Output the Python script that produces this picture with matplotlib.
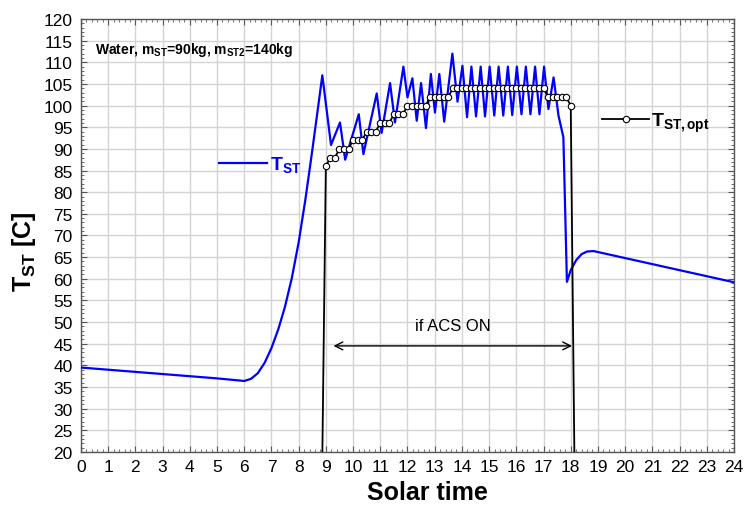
import matplotlib
matplotlib.use("Agg")
import matplotlib.pyplot as plt
from matplotlib.ticker import MultipleLocator
from matplotlib.lines import Line2D

plt.rcParams['font.family'] = ['Liberation Sans', 'DejaVu Sans']
plt.rcParams['mathtext.fontset'] = 'custom'
plt.rcParams['mathtext.rm'] = 'Liberation Sans'
plt.rcParams['mathtext.it'] = 'Liberation Sans:italic'
plt.rcParams['mathtext.bf'] = 'Liberation Sans:bold'

# ---- data ----
t_st = [0, 1, 2, 3, 4, 5, 6.0, 6.25, 6.5, 6.75, 7.0, 7.25, 7.5, 7.75, 8.0, 8.25, 8.5, 8.75, 8.87,
        9.19, 9.52, 9.71, 10.21, 10.38, 10.87, 11.05, 11.36, 11.54, 11.85, 12.0, 12.18,
        12.34, 12.5, 12.68, 12.86, 13.01, 13.17, 13.35, 13.65, 13.84, 14.02, 14.19, 14.35,
        14.52, 14.69, 14.85, 15.02, 15.19, 15.35, 15.52, 15.69, 15.85, 16.02, 16.19, 16.35,
        16.52, 16.69, 16.85, 17.02, 17.18, 17.37, 17.55, 17.73, 17.86, 18.0, 18.2, 18.4,
        18.6, 18.84, 24.0]
T_st = [39.5, 39.0, 38.5, 38.0, 37.5, 37.0, 36.4, 36.9, 38.2, 40.6, 44.0, 48.3, 53.6, 60.2,
        68.4, 78.4, 89.6, 101.3, 107.0,
        90.9, 96.1, 87.5, 98.0, 88.8, 102.8, 93.7, 105.2, 96.1, 109.0, 101.9, 106.3,
        96.5, 105.2, 94.8, 107.3, 98.4, 107.3, 96.3, 112.0, 100.9, 109.2, 97.3, 109.0,
        97.5, 109.0, 97.5, 109.0, 97.7, 109.0, 97.7, 109.0, 97.8, 109.0, 98.0, 109.0,
        98.0, 109.0, 98.0, 109.0, 99.2, 106.5, 97.7, 92.7, 59.3, 62.0, 64.3, 65.7,
        66.3, 66.4, 59.2]

t_opt_min = [530, 540, 550, 560, 570, 580, 590, 600, 610, 620, 630, 640, 650, 660, 670,
             680, 690, 700, 710, 720, 730, 740, 750, 760, 770, 780, 790, 800, 810, 820,
             830, 840, 850, 860, 870, 880, 890, 900, 910, 920, 930, 940, 950, 960, 970,
             980, 990, 1000, 1010, 1020, 1030, 1040, 1050, 1060, 1070, 1080, 1090]
T_opt = [0, 86, 88, 88, 90, 90, 90, 92, 92, 92, 94, 94, 94, 96, 96,
         96, 98, 98, 98, 100, 100, 100, 100, 100, 102, 102, 102, 102, 102, 104,
         104, 104, 104, 104, 104, 104, 104, 104, 104, 104, 104, 104, 104, 104, 104,
         104, 104, 104, 104, 104, 102, 102, 102, 102, 102, 100, 0]
t_opt = [m / 60.0 for m in t_opt_min]

x_ticks = list(range(0, 25))
y_ticks = list(range(20, 121, 5))

acs_on = (9.28, 18.05)

# ---- figure ----
fig = plt.figure(figsize=(7.45, 5.10), dpi=100)
ax = fig.add_axes([0.1087, 0.1118, 0.8765, 0.849])

ax.plot(t_st, T_st, color='#0000ff', lw=1.6, zorder=3)
ax.plot(t_opt, T_opt, color='black', lw=1.3, marker='o', ms=4.6,
        mfc='white', mec='black', mew=0.8, zorder=4)

ax.set_xlim(0, 24)
ax.set_ylim(20, 120)
ax.set_xticks(x_ticks)
ax.set_yticks(y_ticks)
ax.xaxis.set_minor_locator(MultipleLocator(0.2))
ax.yaxis.set_minor_locator(MultipleLocator(1))
ax.tick_params(which='both', direction='in', top=True, right=True, color='#555555')
ax.tick_params(which='major', length=4, labelsize=12.5)
ax.tick_params(which='minor', length=2.5)
ax.tick_params(axis='x', pad=5)
ax.tick_params(axis='y', pad=6)
ax.grid(True, which='major', color='#d4d4d4', lw=1.0, zorder=0)
ax.set_axisbelow(True)
for s in ax.spines.values():
    s.set_color('#555555')
    s.set_linewidth(1.0)

ax.set_xlabel('Solar time', fontsize=18, fontweight='bold')
ax.xaxis.set_label_coords(0.531, -0.064)
ax.set_ylabel(r'$\mathbf{T_{ST}}$ [C]', fontsize=18, fontweight='bold')
ax.yaxis.set_label_coords(-0.066, 0.465)

ax.text(0.022, 0.93, r'Water, m$_{\mathbf{ST}}$=90kg, m$_{\mathbf{ST2}}$=140kg',
        transform=ax.transAxes, fontsize=10, fontweight='bold', va='center', ha='left')

# arrow "if ACS ON"
ax.annotate('', xy=(acs_on[0], 44.5), xytext=(acs_on[1], 44.5),
            arrowprops=dict(arrowstyle='<->', color='black', lw=1.0,
                            shrinkA=0, shrinkB=0, mutation_scale=14))
ax.text((acs_on[0] + acs_on[1]) / 2, 49.3, 'if ACS ON', ha='center', va='center',
        fontsize=12)

# legends
h1 = Line2D([], [], color='#0000ff', lw=1.6)
leg1 = ax.legend([h1], [r'$\mathbf{T_{ST}}$'], loc='center left',
                 bbox_to_anchor=(0.2106, 0.664), frameon=False, fontsize=14,
                 handlelength=2.5, handletextpad=0.15, borderpad=0, borderaxespad=0)
for txt in leg1.get_texts():
    txt.set_color('#0000ff')
ax.add_artist(leg1)

h2 = Line2D([], [], color='black', lw=1.3, marker='o', ms=4.6, mfc='white',
            mec='black', mew=0.8)
ax.legend([h2], [r'$\mathbf{T_{ST,opt}}$'], loc='center left',
          bbox_to_anchor=(0.7986, 0.762), frameon=False, fontsize=14,
          handlelength=2.4, handletextpad=0.1, borderpad=0, borderaxespad=0,
          numpoints=1)

fig.savefig('out.png', dpi=100)
